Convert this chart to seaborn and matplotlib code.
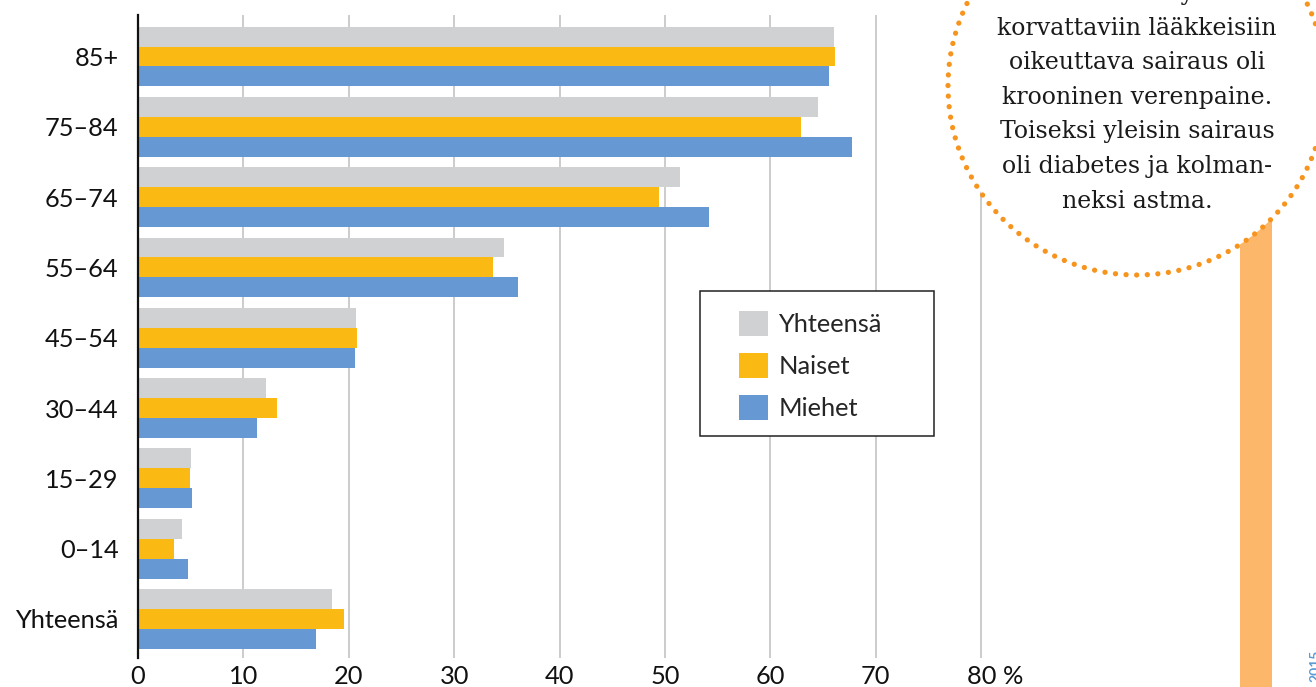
import pandas as pd
import matplotlib
matplotlib.use("Agg")
import matplotlib.pyplot as plt
from matplotlib.patches import Circle, Rectangle
from matplotlib.transforms import ScaledTranslation
import seaborn as sns

# data (%)
ika = ["85+", "75–84", "65–74", "55–64", "45–54", "30–44", "15–29", "0–14", "Yhteensä"]
yhteensa = [66.0, 64.5, 51.4, 34.7, 20.7, 12.1, 5.0, 4.2, 18.4]
naiset = [66.1, 62.9, 49.4, 33.7, 20.8, 13.2, 4.9, 3.4, 19.5]
miehet = [65.6, 67.7, 54.2, 36.1, 20.6, 11.3, 5.1, 4.7, 16.9]
sarjat = ["Yhteensä", "Naiset", "Miehet"]
varit = ["#D0D1D3", "#FBB914", "#6699D3"]
xtick_vals = [0, 10, 20, 30, 40, 50, 60, 70, 80]
xtick_labels = ["0", "10", "20", "30", "40", "50", "60", "70", "80 %"]
teksti = ["Yleisin erityis-", "korvattaviin lääkkeisiin", "oikeuttava sairaus oli",
          "krooninen verenpaine.", "Toiseksi yleisin sairaus",
          "oli diabetes ja kolman-", "neksi astma."]

df = pd.DataFrame({
    "ika": ika * 3,
    "arvo": yhteensa + naiset + miehet,
    "sarja": [s for s in sarjat for _ in ika],
})

sns.set_style("white")
plt.rcParams["font.family"] = ["Lato", "DejaVu Sans"]

W, H = 1316, 687
fs = 18.3
fig = plt.figure(figsize=(W / 100, H / 100), dpi=100)

# main chart
ax = fig.add_axes([138 / W, 1 - 658 / H, 80.5 * 10.54 / W, 643 / H])
sns.barplot(data=df, x="arvo", y="ika", hue="sarja", order=ika, hue_order=sarjat,
            palette=varit, saturation=1, width=0.85, orient="h", ax=ax,
            linewidth=0, legend=True)
handles, labels = ax.get_legend_handles_labels()
ax.get_legend().remove()

ax.set_xlim(0, 80.5)
ax.set_ylim(8.555, -0.59)
ax.set_xticks(xtick_vals)
ax.set_xticklabels(xtick_labels)
ax.set_xlabel("")
ax.set_ylabel("")
ax.tick_params(axis="both", length=0, labelsize=fs, colors="#111111")
ax.tick_params(axis="x", pad=5)
ax.tick_params(axis="y", pad=14)
# the "%" hangs to the right of the 80 gridline
lbl = ax.get_xticklabels()[-1]
lbl.set_transform(lbl.get_transform() + ScaledTranslation(14 / 100, 0, fig.dpi_scale_trans))
ax.set_axisbelow(True)
ax.grid(axis="x", color="#BFBFBF", linewidth=1.1)
ax.grid(axis="y", visible=False)
for s in ["top", "right", "bottom"]:
    ax.spines[s].set_visible(False)
ax.spines["left"].set_color("#111111")
ax.spines["left"].set_linewidth(1.6)
ax.spines["left"].set_zorder(5)

# overlay in pixel coordinates for the legend box and the side note
ov = fig.add_axes([0, 0, 1, 1], zorder=10)
ov.set_xlim(0, W)
ov.set_ylim(H, 0)
ov.axis("off")
ov.patch.set_alpha(0)

ov.add_patch(Rectangle((700, 291), 234, 145, facecolor="white", edgecolor="#222222",
                       linewidth=1.1, zorder=1))
leg = ov.legend(handles, labels, loc="upper left", bbox_to_anchor=(739 / W, 1 - 311 / H),
                bbox_transform=fig.transFigure, frameon=False, fontsize=fs,
                handlelength=1.14, handleheight=1.14, handletextpad=0.4,
                labelspacing=0.66, borderpad=0, borderaxespad=0)
leg.set_zorder(5)

# orange strip and dotted circle
ov.add_patch(Rectangle((1240, 0), 32, H, facecolor="#FDB76B", edgecolor="none", zorder=2))
ov.add_patch(Circle((1137, 86), 189, facecolor="white", edgecolor="none", zorder=3))
ring = Circle((1137, 86), 189, facecolor="none", edgecolor="#F7941D", linewidth=3.8,
              linestyle=(0, (0.01, 2.0)), zorder=3.5)
ring.set_capstyle("round")
ov.add_patch(ring)

y0 = 0
for i, rivi in enumerate(teksti):
    ov.text(1137, y0 + i * 34.6, rivi, ha="center", va="baseline", fontsize=17,
            family=["DejaVu Serif"], color="#1a1a1a", zorder=4)

ov.text(1309, 650, "2015", rotation=90, ha="left", va="top", fontsize=10,
        color="#5B9BD5", fontweight="bold", zorder=4)

fig.savefig("out.png", dpi=100)
